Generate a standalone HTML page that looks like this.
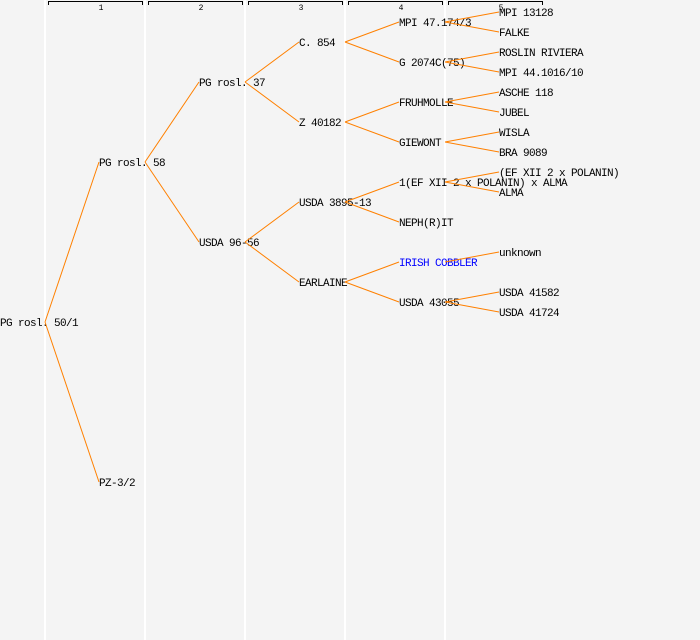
<!DOCTYPE html>
<html><head><meta charset="utf-8"><style>
html,body{margin:0;padding:0;background:#f4f4f4;}
svg{display:block;}
text{font-family:"Liberation Mono","DejaVu Sans Mono",monospace;font-size:11px;letter-spacing:-0.6px;fill:#000;}
</style></head><body>
<svg width="700" height="640" xmlns="http://www.w3.org/2000/svg">
<rect width="700" height="640" fill="#f4f4f4"/>
<g stroke="#ffffff" stroke-width="2">
<line x1="45" y1="0" x2="45" y2="640"/><line x1="145" y1="0" x2="145" y2="640"/>
<line x1="245" y1="0" x2="245" y2="640"/><line x1="345" y1="0" x2="345" y2="640"/>
<line x1="445" y1="0" x2="445" y2="640"/>
</g>
<g stroke="#000" stroke-width="1" fill="none">
<path d="M48.5 5V1.5H142.5V5"/><path d="M148.5 5V1.5H242.5V5"/><path d="M248.5 5V1.5H342.5V5"/>
<path d="M348.5 5V1.5H442.5V5"/><path d="M448.5 5V1.5H542.5V5"/>
</g>
<g text-anchor="middle">
<text x="101" y="10" style="font-size:8px;letter-spacing:0">1</text><text x="201" y="10" style="font-size:8px;letter-spacing:0">2</text>
<text x="301" y="10" style="font-size:8px;letter-spacing:0">3</text><text x="401" y="10" style="font-size:8px;letter-spacing:0">4</text>
<text x="501" y="10" style="font-size:8px;letter-spacing:0">5</text>
</g>
<g>
<text x="0" y="326">PG rosl. 50/1</text>
<text x="99" y="166">PG rosl. 58</text><text x="99" y="486">PZ-3/2</text>
<text x="199" y="86">PG rosl. 37</text><text x="199" y="246">USDA 96-56</text>
<text x="299" y="46">C. 854</text><text x="299" y="126">Z 40182</text>
<text x="299" y="206">USDA 3895-13</text><text x="299" y="286">EARLAINE</text>
<text x="399" y="26">MPI 47.174/3</text><text x="399" y="66">G 2074C(75)</text>
<text x="399" y="106">FRUHMOLLE</text><text x="399" y="146">GIEWONT</text>
<text x="399" y="186">1(EF XII 2 x POLANIN) x ALMA</text><text x="399" y="226">NEPH(R)IT</text>
<text x="399" y="266" style="fill:#0000ff">IRISH COBBLER</text><text x="399" y="306">USDA 43055</text>
<text x="499" y="16">MPI 13128</text><text x="499" y="36">FALKE</text>
<text x="499" y="56">ROSLIN RIVIERA</text><text x="499" y="76">MPI 44.1016/10</text>
<text x="499" y="96">ASCHE 118</text><text x="499" y="116">JUBEL</text>
<text x="499" y="136">WISLA</text><text x="499" y="156">BRA 9089</text>
<text x="499" y="176">(EF XII 2 x POLANIN)</text><text x="499" y="196">ALMA</text>
<text x="499" y="256">unknown</text>
<text x="499" y="296">USDA 41582</text><text x="499" y="316">USDA 41724</text>
</g>
<g stroke="#ff8000" stroke-width="1" fill="none">
<path d="M45 322L99 162M45 322L99 482"/>
<path d="M145 162L199 82M145 162L199 242"/>
<path d="M245 82L299 42M245 82L299 122M245 242L299 202M245 242L299 282"/>
<path d="M345 42L399 22M345 42L399 62M345 122L399 102M345 122L399 142M345 202L399 182M345 202L399 222M345 282L399 262M345 282L399 302"/>
<path d="M445 22L499 12M445 22L499 32M445 62L499 52M445 62L499 72M445 102L499 92M445 102L499 112M445 142L499 132M445 142L499 152M445 182L499 172M445 182L499 192M445 262L499 252M445 302L499 292M445 302L499 312"/>
</g>
</svg>
</body></html>
